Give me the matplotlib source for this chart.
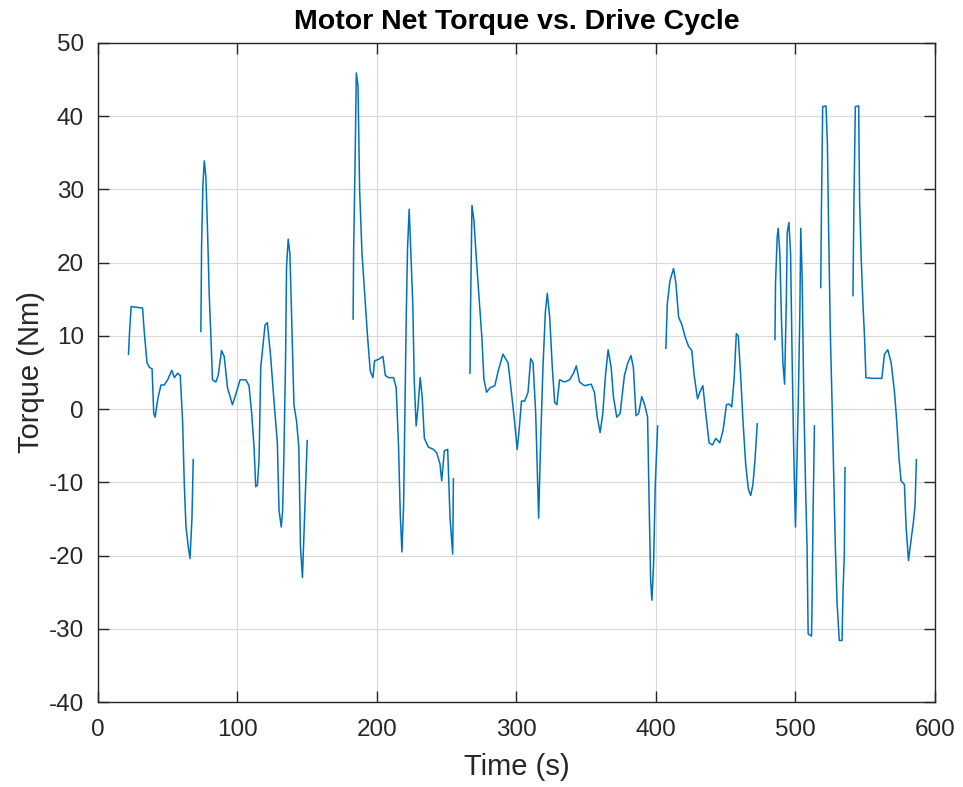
import numpy as np
import matplotlib
matplotlib.use("Agg")
import matplotlib.pyplot as plt

plt.rcParams['font.family'] = ['Liberation Sans', 'DejaVu Sans']
plt.rcParams['axes.unicode_minus'] = False

# drive cycle samples, NaN marks the standstill gaps
time_s = [
    21.9, 22.6, 23.8, 28.0, 32.0, 33.3, 35.2, 36.9, 38.8, 40.0, 41.0, 42.9, 45.2, 47.6, 50.0,
    52.9, 54.8, 57.1, 59.0, 60.7, 61.9, 63.1, 64.8, 66.0, 67.4, 68.3, np.nan,
    73.8, 74.3, 75.2, 76.2, 77.4, 78.6, 79.8, 81.0, 82.1, 84.5, 86.2, 88.6, 90.5, 92.9,
    96.4, 98.8, 101.9, 106.0, 108.3, 110.2, 111.9, 113.1, 114.3, 115.5, 116.7, 117.9,
    119.8, 121.4, 123.8, 126.2, 128.6, 129.8, 131.4, 132.4, 133.3, 134.5, 135.2, 136.4,
    137.6, 138.6, 140.5, 142.4, 144.0, 145.2, 146.6, 148.3, 150.0, np.nan,
    182.9, 183.3, 184.3, 185.2, 186.4, 187.6, 189.3, 191.7, 193.3, 195.2, 197.1, 198.3,
    201.2, 204.3, 206.0, 208.3, 211.9, 213.8, 215.5, 216.7, 217.9, 219.1, 220.0, 221.0,
    221.9, 223.1, 224.3, 225.7, 226.7, 228.1, 229.3, 231.0, 232.4, 234.0, 236.9, 240.5,
    242.9, 245.2, 246.4, 248.3, 250.7, 252.4, 254.3, 254.8, np.nan,
    266.7, 267.1, 268.1, 269.5, 271.4, 273.3, 275.2, 276.7, 278.6, 281.0, 284.5, 286.9,
    290.3, 294.0, 296.4, 298.8, 300.5, 301.9, 303.6, 305.9, 308.3, 310.2, 311.9, 313.8,
    315.0, 315.9, 317.4, 319.0, 320.7, 322.1, 323.8, 325.7, 327.4, 329.0, 330.9, 334.5,
    338.1, 340.9, 342.9, 345.2, 348.8, 353.6, 355.9, 357.9, 360.0, 361.9, 363.8, 365.7,
    367.9, 369.5, 371.9, 374.3, 377.4, 379.8, 382.1, 383.8, 385.7, 387.6, 389.8, 391.9,
    394.0, 395.2, 396.2, 397.1, 398.3, 399.5, 401.2, np.nan,
    407.1, 408.1, 410.0, 412.6, 414.3, 416.2, 418.6, 421.0, 423.3, 425.7, 427.4, 429.8,
    431.4, 433.6, 435.7, 438.1, 440.5, 442.9, 445.7, 448.1, 450.5, 452.4, 454.3, 456.0,
    457.6, 459.0, 460.7, 462.4, 464.3, 466.2, 467.9, 469.5, 471.0, 472.6, np.nan,
    485.3, 485.7, 486.9, 487.6, 488.8, 490.0, 491.0, 492.2, 493.4, 494.1, 495.3, 496.5,
    497.6, 498.8, 500.0, 500.7, 501.9, 503.1, 503.8, 504.8, 506.0, 507.2, 508.3, 509.1,
    511.5, 511.9, 512.6, 513.6, np.nan,
    518.1, 518.6, 519.5, 521.9, 522.9, 523.8, 525.0, 526.2, 527.4, 528.6, 529.8, 531.4,
    533.4, 534.1, 535.0, 535.5, np.nan,
    541.2, 541.9, 542.9, 545.3, 546.0, 547.2, 548.4, 549.5, 550.5, 554.8, 561.9, 563.8,
    566.2, 568.6, 571.0, 572.6, 574.3, 575.7, 578.1, 579.3, 581.0, 582.9, 584.5, 585.7,
    586.7,
]

torque_nm = [
    7.5, 10.3, 14.0, 13.9, 13.8, 10.3, 6.3, 5.7, 5.5, -0.6, -1.1, 1.4, 3.3, 3.3, 4.0,
    5.3, 4.3, 4.9, 4.6, -1.7, -10.3, -16.0, -18.9, -20.4, -14.9, -6.9, np.nan,
    10.6, 22.4, 30.4, 33.9, 31.6, 24.1, 15.5, 9.8, 4.0, 3.7, 4.6, 8.0, 7.2, 2.9,
    0.6, 2.0, 4.0, 4.0, 3.2, -0.6, -5.2, -10.6, -10.4, -6.9, 5.7, 8.0,
    11.5, 11.8, 7.2, 1.1, -4.6, -13.8, -16.1, -13.8, -6.3, 6.9, 19.5, 23.2,
    21.2, 14.3, 0.6, -1.7, -5.2, -18.9, -23.0, -13.8, -4.3, np.nan,
    12.3, 21.8, 33.3, 45.9, 44.2, 29.8, 21.2, 14.3, 9.8, 5.2, 4.3, 6.6,
    6.8, 7.2, 4.6, 4.3, 4.3, 2.9, -5.2, -14.3, -19.5, -13.2, -0.6, 12.6,
    21.8, 27.3, 21.2, 14.3, 4.0, -2.3, 0.0, 4.3, 1.7, -4.0, -5.2, -5.5,
    -6.0, -7.5, -9.8, -5.7, -5.5, -14.9, -19.8, -9.5, np.nan,
    4.9, 13.8, 27.8, 25.8, 20.1, 14.9, 9.8, 4.0, 2.3, 2.9, 3.2, 5.2,
    7.5, 6.3, 2.3, -2.0, -5.5, -2.9, 1.1, 1.1, 2.3, 6.9, 6.3, -0.6,
    -8.6, -14.9, -4.0, 5.7, 13.2, 15.8, 12.6, 5.7, 0.9, 0.6, 4.0, 3.7,
    4.0, 4.9, 5.9, 3.7, 3.2, 3.4, 2.3, -1.1, -3.2, -0.6, 4.6, 8.1,
    5.7, 1.7, -1.1, -0.6, 4.6, 6.3, 7.3, 5.7, -0.9, -0.6, 1.7, 0.6,
    -1.1, -13.8, -23.5, -26.1, -21.2, -10.3, -2.3, np.nan,
    8.3, 14.3, 17.5, 19.2, 17.2, 12.6, 11.5, 9.8, 8.6, 8.0, 4.6, 1.4,
    2.3, 3.2, -0.6, -4.6, -4.9, -4.0, -4.6, -2.9, 0.6, 0.7, 0.3, 4.0,
    10.3, 10.0, 4.6, -1.7, -7.5, -10.9, -11.8, -10.3, -6.9, -2.0, np.nan,
    9.5, 17.2, 23.5, 24.7, 21.2, 12.0, 6.3, 3.4, 14.3, 24.1, 25.5, 21.2,
    6.9, -6.3, -16.1, -10.3, 0.0, 12.6, 24.7, 17.8, 1.1, -10.3, -18.9, -30.7,
    -31.0, -26.4, -14.3, -2.3, np.nan,
    16.6, 27.0, 41.3, 41.4, 36.1, 24.1, 10.3, 1.1, -9.2, -18.9, -26.4, -31.6,
    -31.6, -24.7, -20.1, -8.0, np.nan,
    15.5, 28.1, 41.3, 41.4, 28.1, 20.1, 14.3, 9.8, 4.3, 4.2, 4.2, 7.5,
    8.1, 6.3, 2.3, -1.7, -6.9, -9.8, -10.3, -16.1, -20.7, -17.8, -15.5, -13.2,
    -6.9,
]

x_ticks = [0, 100, 200, 300, 400, 500, 600]
y_ticks = [-40, -30, -20, -10, 0, 10, 20, 30, 40, 50]

fig = plt.figure(figsize=(9.63, 7.87), dpi=100)
ax = fig.add_axes([0.1017, 0.108, 0.8692, 0.8374])

ax.plot(time_s, torque_nm, color='#0072BD', lw=1.1)

ax.set_xlim(0, 600)
ax.set_ylim(-40, 50)
ax.set_xticks(x_ticks)
ax.set_yticks(y_ticks)
ax.grid(True, color='#d9d9d9', lw=0.8)
ax.set_axisbelow(True)

ax.tick_params(direction='in', length=8, width=1, top=True, right=True,
               labelsize=17.5, colors='#262626')
ax.tick_params(axis='x', pad=12)
ax.tick_params(axis='y', pad=10)
for sp in ax.spines.values():
    sp.set_color('#262626')
    sp.set_linewidth(1.0)

ax.set_title('Motor Net Torque vs. Drive Cycle', fontsize=20.5, fontweight='bold',
             pad=10, color='black')
ax.set_xlabel('Time (s)', fontsize=21, color='#262626', labelpad=9)
ax.set_ylabel('Torque (Nm)', fontsize=21, color='#262626', labelpad=3)

fig.savefig('out.png', dpi=100)
